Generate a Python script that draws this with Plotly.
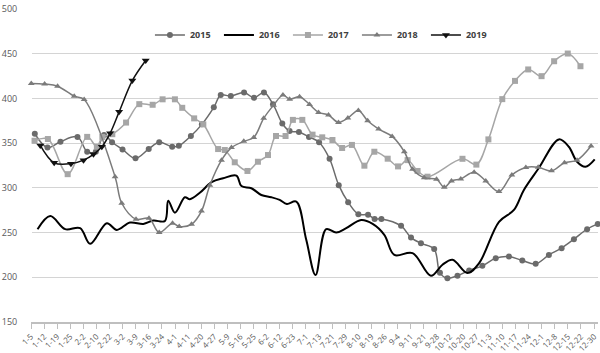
import plotly.graph_objects as go

# Category tick labels (one per tick on the x axis)
tick_labels = ["1-5", "1-12", "1-19", "1-25", "2-2", "2-10", "2-22", "3-2", "3-9", "3-16",
               "3-24", "4-1", "4-11", "4-20", "4-27", "5-9", "5-16", "5-25", "6-2", "6-12",
               "6-23", "7-1", "7-13", "7-21", "7-29", "8-10", "8-19", "8-26", "9-4", "9-11",
               "9-21", "9-28", "10-12", "10-20", "10-27", "11-3", "11-10", "11-17", "11-24", "12-1",
               "12-8", "12-15", "12-22", "12-30"]

# Each series: position along the category axis (in tick units) and value
x2015 = [0.29, 1.26, 2.25, 3.55, 4.29, 4.95, 5.58, 6.19, 6.99, 7.98, 8.99, 9.79, 10.78, 11.29,
         12.21, 13.05, 13.96, 14.49, 15.26, 16.27, 17.03, 17.79, 18.48, 19.19, 19.75, 20.46,
         21.23, 22.0, 22.8, 23.5, 24.22, 25.0, 25.74, 26.24, 26.76, 28.26, 29.02, 29.78, 30.79,
         31.23, 31.8, 32.57, 33.46, 34.47, 35.49, 36.5, 37.52, 38.54, 39.55, 40.52, 41.46,
         42.47, 43.28]
y2015 = [360.5, 345, 351.6, 357, 340.4, 340.4, 359, 351, 343, 333, 343.5, 351, 346, 347,
         358, 371, 390, 403.7, 402.6, 406.7, 400.7, 406.7, 393.6, 372, 363.5, 362.5,
         357, 351, 332.5, 303, 284, 270.5, 269.8, 265.3, 265.3, 257.5, 244.4, 238, 231.5,
         205, 199, 201.7, 207.6, 212.8, 221.4, 223.2, 218.8, 215, 225, 232.6, 242.6,
         253.8, 259.7]

x2016 = [0.5, 1.47, 2.61, 3.75, 4.52, 5.79, 6.55, 7.56, 8.58, 9.34, 10.23, 10.48, 10.99,
         11.75, 12.13, 12.89, 13.79, 14.67, 15.69, 16.07, 16.83, 17.59, 18.35, 18.99, 19.54,
         20.26, 21.02, 21.73, 22.54, 23.31, 24.07, 25.21, 26.09, 26.98, 27.75, 29.14, 30.54,
         31.42, 32.19, 33.33, 34.22, 35.74, 36.88, 37.64, 38.77, 40.31, 41.07, 41.7, 42.34, 43.05]
y2016 = [253.8, 268.6, 253.8, 255, 237.4, 260.5, 253, 261.2, 259.7, 263.4, 263, 285.7, 272.3,
         289.5, 287.3, 294.5, 306.3, 310.7, 313.6, 302, 299.6, 292, 289.5, 286.5, 282,
         284.6, 242, 202.5, 253.8, 250, 254.9, 264, 259.7, 247.5, 225, 227, 201.7,
         214, 219.6, 204.7, 215.8, 262, 275.3, 297.7, 321.9, 354.2, 346, 329.2, 323.6, 331.9]

x2017 = [0.27, 1.29, 2.8, 4.29, 5.03, 5.45, 6.21, 7.26, 8.27, 9.29, 10.05, 10.99, 11.55, 12.46,
         13.16, 14.29, 14.8, 15.56, 16.53, 17.33, 18.1, 18.71, 19.44, 20.0, 20.72, 21.5, 22.24,
         23.02, 23.76, 24.51, 25.46, 26.22, 27.24, 28.03, 28.76, 29.52, 30.28, 32.95, 34.01,
         34.93, 35.99, 36.96, 37.97, 38.99, 39.95, 40.99, 41.96]
y2017 = [352.7, 354.6, 315.3, 357, 346, 357, 360, 373, 393.6, 392.9, 399, 399, 389.5, 377.7,
         371, 343.4, 342.3, 328.6, 318.9, 329.2, 336.7, 358, 358, 376, 376, 359.5, 356.5,
         353.5, 344.6, 348, 324.8, 340.4, 332.6, 324, 331, 318.9, 312.5, 332.5, 326,
         354.2, 399.2, 419.6, 432.4, 424.9, 441.6, 450.2, 436]

x2018 = [0.02, 1.04, 2.03, 3.3, 4.06, 6.42, 6.93, 8.02, 9.01, 9.79, 10.81, 11.32, 12.26, 13.02,
         13.66, 14.55, 15.31, 16.25, 17.01, 17.77, 18.53, 19.24, 19.75, 20.51, 21.27, 21.96,
         22.72, 23.48, 24.2, 25.0, 25.71, 26.55, 27.58, 28.51, 29.14, 30.03, 30.97, 31.56,
         32.11, 32.82, 33.84, 34.73, 35.74, 36.72, 37.79, 38.73, 39.75, 40.74, 41.7, 42.77]
y2018 = [416.7, 416, 413.7, 402.5, 398.8, 312.5, 282.8, 265, 266, 250, 260.5, 256.7, 259.3, 274,
         303, 331, 345, 352, 356.4, 377.7, 392.5, 403.7, 399.2, 401.8, 393.3, 384.4,
         381.4, 373.2, 378, 386.5, 375, 365.7, 357.5, 340.4, 320.8, 311.4, 309.6, 300.7,
         307.7, 310, 317.4, 307.7, 295.8, 314.3, 322.8, 323, 319, 328, 331, 346.8]

x2019 = [0.71, 1.77, 3.05, 4.01, 4.77, 5.41, 6.04, 6.73, 7.74, 8.76]
y2019 = [347.5, 328, 327, 331, 337.5, 346, 361, 385, 420, 442.4]

series = [
    ("2015", x2015, y2015, "#6b6b6b", "circle", 6, 1.5),
    ("2016", x2016, y2016, "#000000", None, 0, 2),
    ("2017", x2017, y2017, "#a6a6a6", "square", 6, 1.5),
    ("2018", x2018, y2018, "#7b7b7b", "triangle-up", 6, 1.5),
    ("2019", x2019, y2019, "#111111", "triangle-down", 7, 1.5),
]

fig = go.Figure()
for name, xs, ys, color, sym, msize, lw in series:
    mode = "lines+markers" if sym else "lines"
    kw = dict(marker=dict(symbol=sym, size=msize, color=color)) if sym else {}
    fig.add_trace(go.Scatter(x=xs, y=ys, name=name, mode=mode,
                             line=dict(color=color, width=lw, shape="spline", smoothing=1),
                             cliponaxis=False, **kw))

fig.update_layout(
    width=600, height=353,
    margin=dict(l=31, r=2, t=9, b=31, autoexpand=False),
    plot_bgcolor="white", paper_bgcolor="white",
    font=dict(family="Open Sans", color="#595959", size=9),
    showlegend=True,
    legend=dict(orientation="h", x=0.514, xanchor="center", y=0.917, yanchor="middle",
                font=dict(family="Open Sans", size=9, color="#404040", weight="bold"),
                itemwidth=30, entrywidth=24, bgcolor="rgba(0,0,0,0)", tracegroupgap=0),
)
fig.update_xaxes(range=[0, 43.3], tickmode="array", tickvals=list(range(len(tick_labels))),
                 ticktext=tick_labels, tickangle=-45, showgrid=False,
                 showline=True, linecolor="#bfbfbf", linewidth=1.5,
                 ticks="outside", ticklen=5, tickcolor="#bfbfbf", tickwidth=1,
                 tickfont=dict(size=8, color="#595959"), automargin=False)
fig.update_yaxes(range=[150, 500], dtick=50, tick0=150, showgrid=True, gridcolor="#d4d4d4",
                 gridwidth=1.2, zeroline=False, ticks="outside", ticklen=0,
                 ticklabelstandoff=11, tickfont=dict(size=9, color="#595959"), automargin=False)

fig.write_html("out.html")
